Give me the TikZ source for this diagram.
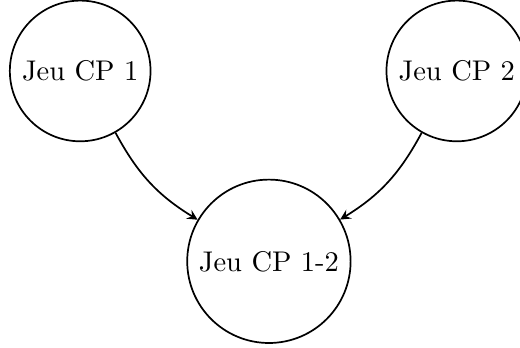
\documentclass[tikz,border=0pt]{standalone}
\usepackage{tikz}
\usetikzlibrary{arrows}
\tikzstyle{jeu} = [circle, draw=black, semithick]
\tikzstyle{arrow} = [semithick,->,>=stealth]

\begin{document}
\begin{tikzpicture}
            \useasboundingbox (-0.99,-3.41) rectangle (5.43,0.876);
            % Les deux jeux de depart
            \node[jeu] (cp1) at (0,0) {Jeu CP 1};
            \node[jeu] (cp2) at (4.65,0) {Jeu CP 2};

            % Le jeu combine
            \node[jeu] (cp12) at (2.33,-2.35) {Jeu CP 1-2};

            \draw[arrow] (cp1) to[bend right=15] (cp12);
            \draw[arrow] (cp2) to[bend left=15] (cp12);

        \end{tikzpicture}
\end{document}
